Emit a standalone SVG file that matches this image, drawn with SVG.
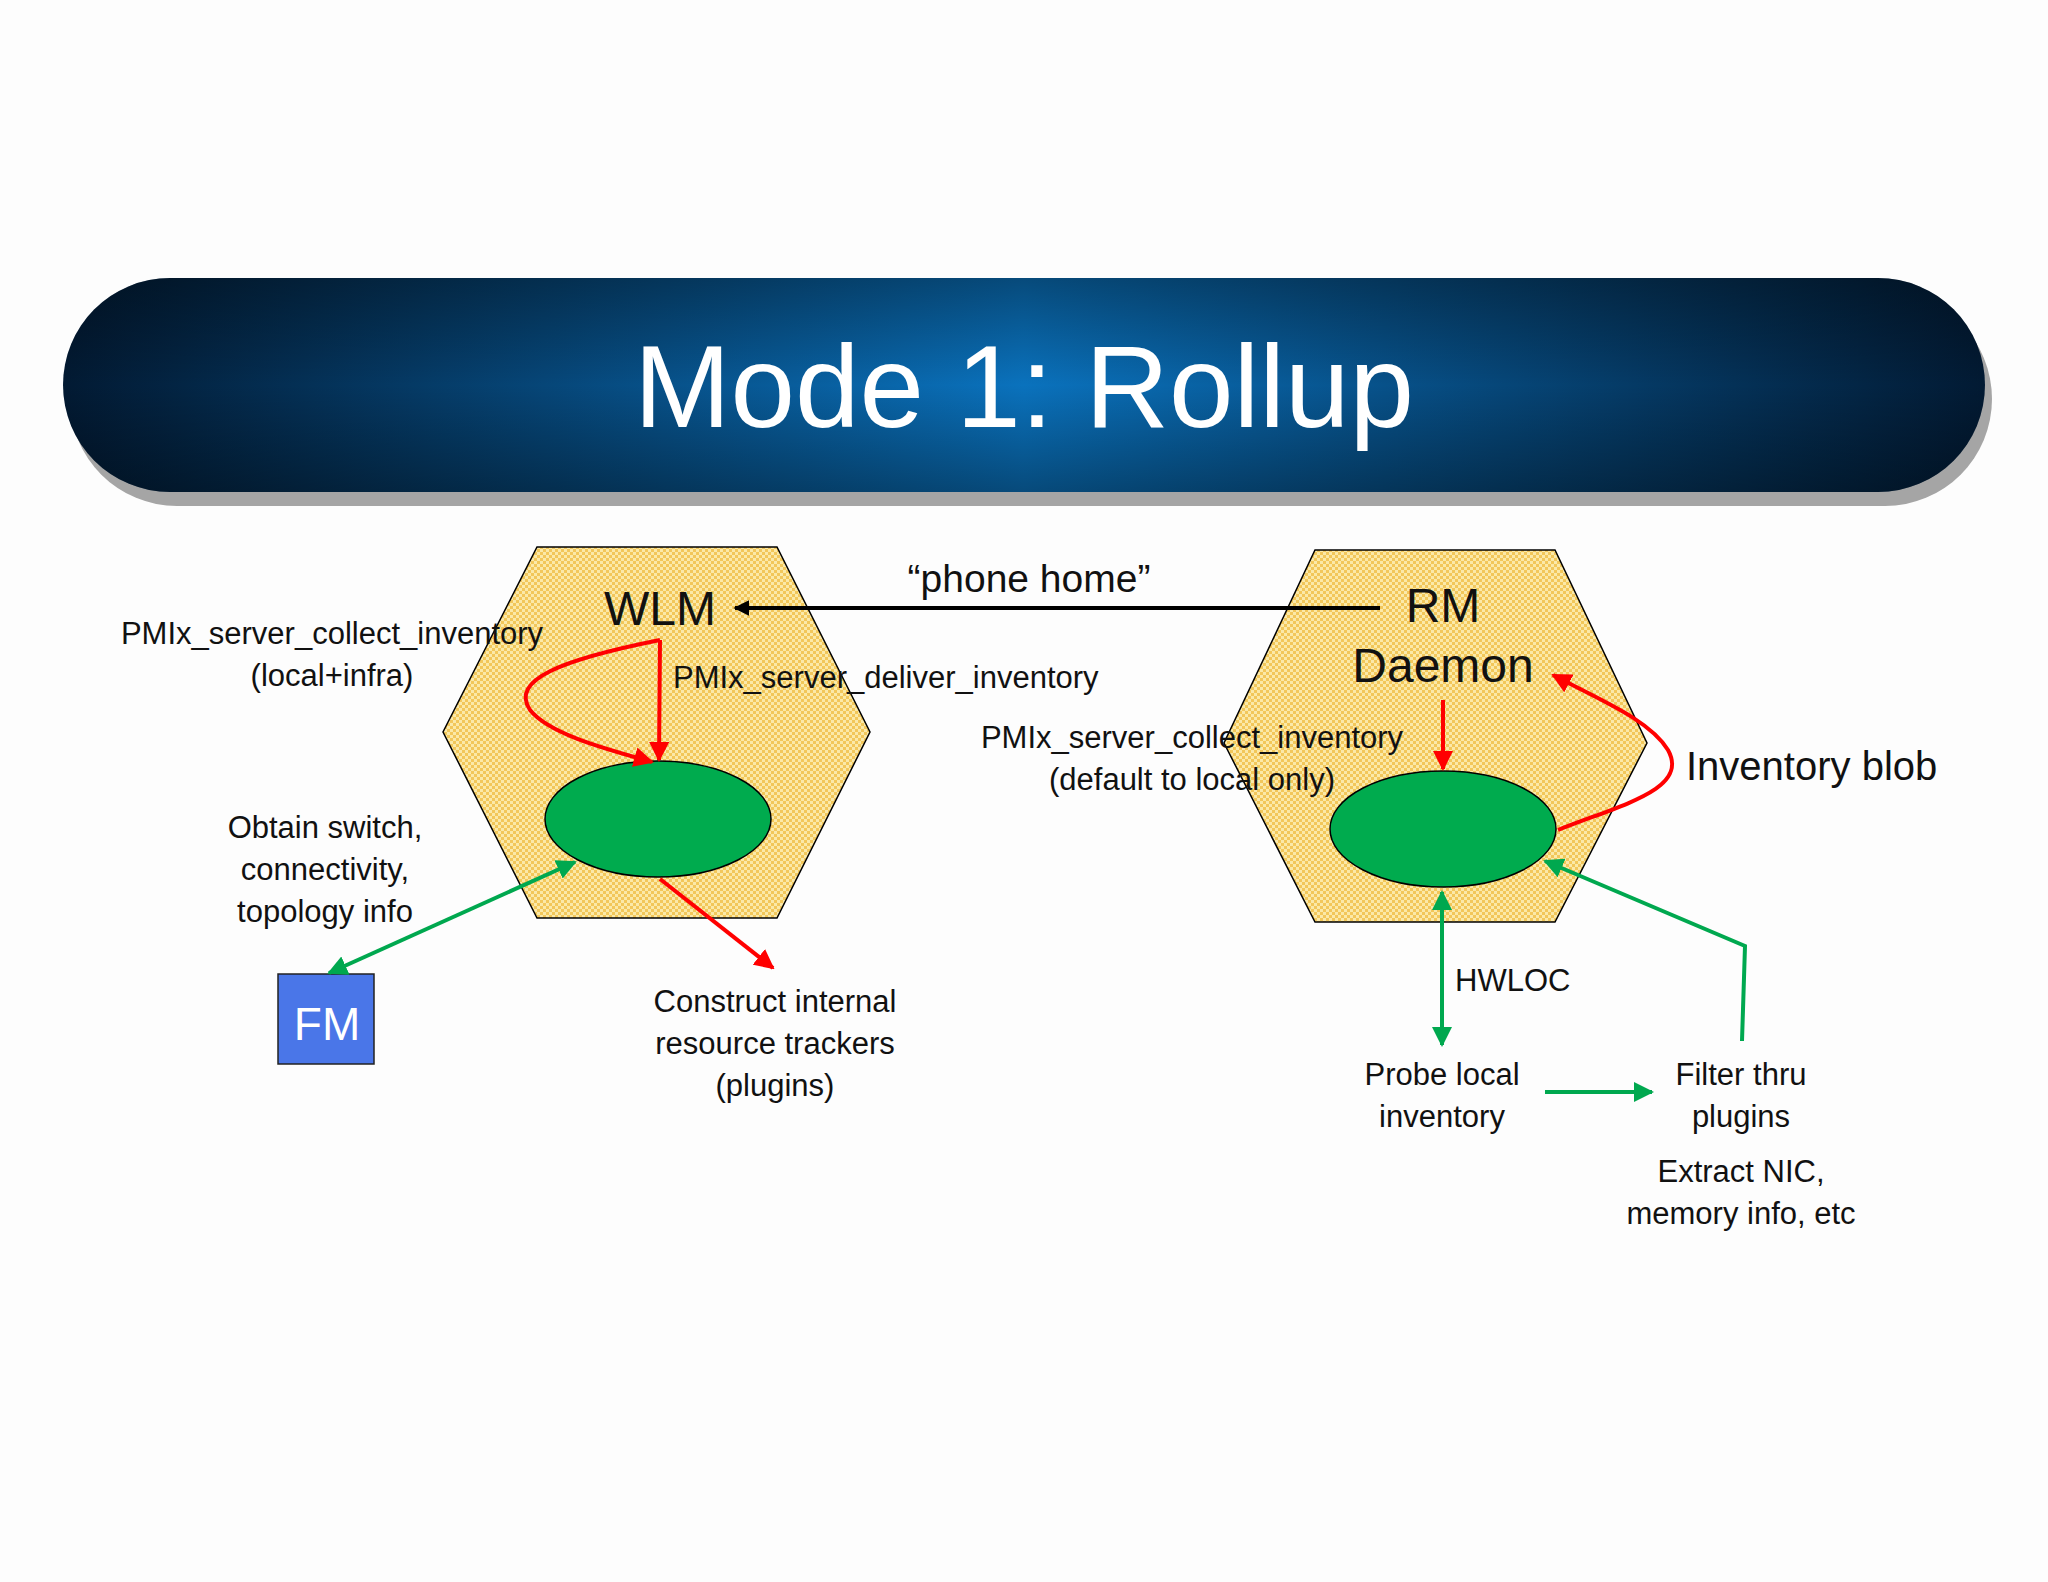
<svg xmlns="http://www.w3.org/2000/svg" width="2048" height="1582" viewBox="0 0 2048 1582">
<defs>
<linearGradient id="ban" x1="0" y1="0" x2="1" y2="0">
<stop offset="0" stop-color="#021a33"/><stop offset="0.5" stop-color="#0a72bd"/><stop offset="1" stop-color="#021a33"/>
</linearGradient>
<linearGradient id="banv" x1="0" y1="0" x2="0" y2="1">
<stop offset="0" stop-color="#000" stop-opacity="0.35"/><stop offset="0.5" stop-color="#000" stop-opacity="0"/><stop offset="1" stop-color="#000" stop-opacity="0.35"/>
</linearGradient>
<pattern id="hatch" width="6" height="6" patternUnits="userSpaceOnUse">
<rect width="6" height="6" fill="#fbe9a8"/>
<rect width="3" height="3" fill="#f2c75a"/>
<rect x="3" y="3" width="3" height="3" fill="#f2c75a"/>
</pattern>
<marker id="ar" viewBox="0 0 10 10" refX="9" refY="5" markerWidth="5" markerHeight="5" orient="auto-start-reverse"><path d="M0,0L10,5L0,10z" fill="#ff0000"/></marker>
<marker id="ag" viewBox="0 0 10 10" refX="9" refY="5" markerWidth="5" markerHeight="5" orient="auto-start-reverse"><path d="M0,0L10,5L0,10z" fill="#00a84f"/></marker>
<marker id="ak" viewBox="0 0 10 10" refX="9" refY="5" markerWidth="4" markerHeight="4" orient="auto"><path d="M0,0L10,5L0,10z" fill="#000"/></marker>
</defs>
<style>
text{font-family:"Liberation Sans",Arial,sans-serif;fill:#111}
.l{font-size:31px;text-anchor:middle}
.hex{fill:url(#hatch);stroke:#000;stroke-width:1.5}
.ell{fill:#00ab4e;stroke:#000;stroke-width:1.5}
.r{stroke:#ff0000;stroke-width:4;fill:none}
.g{stroke:#00a84f;stroke-width:4;fill:none}
</style>
<rect width="2048" height="1582" fill="#fdfdfd"/>
<g id="banner">
<rect x="70" y="292" width="1922" height="214" rx="107" fill="#000" opacity="0.35"/>
<rect x="63" y="278" width="1922" height="214" rx="107" fill="url(#ban)"/>
<rect x="63" y="278" width="1922" height="214" rx="107" fill="url(#banv)"/>
<text x="1024" y="427" style="font-size:116px;fill:#fff" text-anchor="middle">Mode 1: Rollup</text>
</g>
<g id="wlm">
<polygon class="hex" points="537,547 777,547 870,732 777,918 537,918 443,732"/>
<ellipse class="ell" cx="658" cy="819" rx="113" ry="58"/>
<text x="660" y="625" style="font-size:48px" text-anchor="middle">WLM</text>
</g>
<g id="rm">
<polygon class="hex" points="1315,550 1555,550 1647,743 1555,922 1315,922 1224,743"/>
<ellipse class="ell" cx="1443" cy="829" rx="113" ry="58"/>
<text x="1443" y="622" style="font-size:48px" text-anchor="middle">RM</text>
<text x="1443" y="682" style="font-size:48px" text-anchor="middle">Daemon</text>
</g>
<g id="fm">
<rect x="278" y="974" width="96" height="90" fill="#4a76e8" stroke="#222" stroke-width="1.5"/>
<text x="327" y="1040" style="font-size:46px;fill:#fff" text-anchor="middle">FM</text>
</g>
<g id="connectors">
<line x1="1380" y1="608" x2="735" y2="608" stroke="#000" stroke-width="4" marker-end="url(#ak)"/>
<path class="r" d="M660,640 L659,760" marker-end="url(#ar)"/>
<path class="r" d="M660,640 C560,660 510,680 530,710 C550,735 610,750 652,762" marker-end="url(#ar)"/>
<path class="r" d="M660,879 L773,968" marker-end="url(#ar)"/>
<path class="r" d="M1443,700 L1443,769" marker-end="url(#ar)"/>
<path class="r" d="M1558,830 C1620,805 1690,790 1668,750 C1650,720 1600,700 1553,675" marker-end="url(#ar)"/>
<path class="g" d="M575,862 L329,973" marker-start="url(#ag)" marker-end="url(#ag)"/>
<path class="g" d="M1442,892 L1442,1045" marker-start="url(#ag)" marker-end="url(#ag)"/>
<path class="g" d="M1545,1092 L1652,1092" marker-end="url(#ag)"/>
<path class="g" d="M1742,1041 L1745,946 L1545,861" marker-end="url(#ag)"/>
</g>
<g id="labels">
<text class="l" x="1029" y="592" style="font-size:39px">“phone home”</text>
<text class="l" x="332" y="644">PMIx_server_collect_inventory</text>
<text class="l" x="332" y="686">(local+infra)</text>
<text x="673" y="688" style="font-size:31px">PMIx_server_deliver_inventory</text>
<text class="l" x="1192" y="748">PMIx_server_collect_inventory</text>
<text class="l" x="1192" y="790">(default to local only)</text>
<text x="1686" y="780" style="font-size:40px">Inventory blob</text>
<text class="l" x="325" y="838">Obtain switch,</text>
<text class="l" x="325" y="880">connectivity,</text>
<text class="l" x="325" y="922">topology info</text>
<text class="l" x="775" y="1012">Construct internal</text>
<text class="l" x="775" y="1054">resource trackers</text>
<text class="l" x="775" y="1096">(plugins)</text>
<text x="1455" y="991" style="font-size:31px">HWLOC</text>
<text class="l" x="1442" y="1085">Probe local</text>
<text class="l" x="1442" y="1127">inventory</text>
<text class="l" x="1741" y="1085">Filter thru</text>
<text class="l" x="1741" y="1127">plugins</text>
<text class="l" x="1741" y="1182">Extract NIC,</text>
<text class="l" x="1741" y="1224">memory info, etc</text>
</g>
</svg>
